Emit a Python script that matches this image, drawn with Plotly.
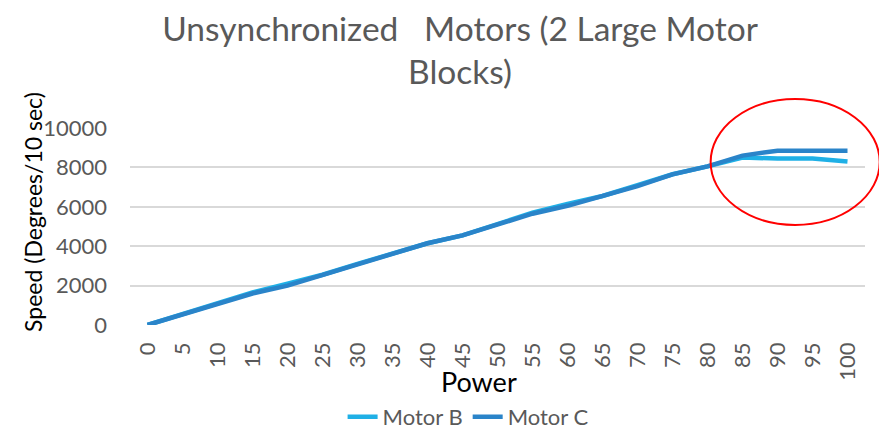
import plotly.graph_objects as go

power = [str(p) for p in range(0, 101, 5)]
motor_b = [0, 550, 1050, 1650, 2100, 2550, 3100, 3650, 4150, 4550, 5100,
           5700, 6150, 6550, 7100, 7650, 8050, 8500, 8450, 8450, 8300]
motor_c = [0, 550, 1050, 1600, 2000, 2550, 3100, 3600, 4150, 4550, 5100,
           5650, 6050, 6550, 7050, 7650, 8050, 8600, 8850, 8850, 8850]

FONT = "Lato, Open Sans, sans-serif"
GREY = "#595959"

fig = go.Figure()

fig.add_trace(go.Scatter(
    x=power, y=motor_b, mode="lines", name="Motor B",
    line=dict(color="#1fb0e6", width=4.5)
))
fig.add_trace(go.Scatter(
    x=power, y=motor_c, mode="lines", name="Motor C",
    line=dict(color="#2a84c9", width=4.5)
))

# red ellipse round the part where the motors drift apart (paper refs so it isn't clipped)
fig.add_shape(
    type="circle", xref="paper", yref="paper",
    x0=0.790, x1=1.020, y0=0.508, y1=1.147,
    line=dict(color="#ff0000", width=2)
)

# page body has an 8px margin, so the figure starts 8px in from the window corner
fig.update_layout(
    width=871, height=426,
    margin=dict(l=122, r=14, t=120, b=109),
    paper_bgcolor="white", plot_bgcolor="white",
    font=dict(family=FONT, color=GREY, size=22),
    title=dict(
        text="Unsynchronized   Motors (2 Large Motor<br>Blocks)",
        x=0.519, xanchor="center", y=0.923, yanchor="middle",
        font=dict(size=33.5, color=GREY, family=FONT)
    ),
    showlegend=True,
    legend=dict(
        orientation="h", x=0.46, xanchor="center",
        yref="container", y=0.04, yanchor="middle",
        font=dict(size=22, color=GREY)
    ),
    xaxis=dict(
        type="category", range=[-0.5, 20.5], tickangle=-90,
        showgrid=False, zeroline=False, showline=False, ticks="",
        automargin=False, ticklabelstandoff=12,
        tickfont=dict(size=22, color=GREY)
    ),
    yaxis=dict(
        range=[0, 10000], dtick=2000, tickformat="d",
        showgrid=True, gridcolor="#d9d9d9", gridwidth=2,
        zeroline=False, showline=False, ticks="", automargin=False,
        ticklabelstandoff=22, tickfont=dict(size=22, color=GREY)
    ),
)

fig.add_annotation(
    text="Power", xref="paper", yref="paper", x=0.475, y=-0.288,
    xanchor="center", yanchor="middle", showarrow=False,
    font=dict(size=27, color="black", family=FONT)
)
fig.add_annotation(
    text="Speed (Degrees/10 sec)", xref="paper", yref="paper",
    x=-0.132, y=0.574, xanchor="center", yanchor="middle",
    textangle=-90, showarrow=False,
    font=dict(size=23, color="black", family=FONT)
)

fig.write_html("out.html")
